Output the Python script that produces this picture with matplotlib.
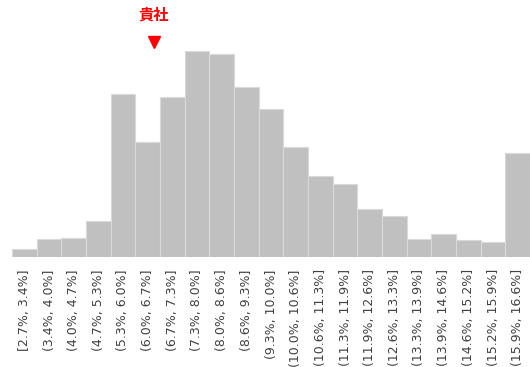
import matplotlib

matplotlib.use("Agg")
import matplotlib.pyplot as plt
import numpy as np

plt.rcParams["font.family"] = ["Noto Sans CJK JP", "DejaVu Sans"]

# histogram of rates: bin edges (%) and bar heights
edges = np.linspace(2.7, 16.6, 22)
heights = [7.4, 17.7, 18.7, 35.7, 163, 115, 160, 206, 203, 169.4, 147.4,
           109.4, 80.7, 73, 47.4, 40.4, 18, 22.4, 16.4, 14.4, 104]
labels = ["[2.7%, 3.4%]", "(3.4%, 4.0%]", "(4.0%, 4.7%]", "(4.7%, 5.3%]",
          "(5.3%, 6.0%]", "(6.0%, 6.7%]", "(6.7%, 7.3%]", "(7.3%, 8.0%]",
          "(8.0%, 8.6%]", "(8.6%, 9.3%]", "(9.3%, 10.0%]", "(10.0%, 10.6%]",
          "(10.6%, 11.3%]", "(11.3%, 11.9%]", "(11.9%, 12.6%]", "(12.6%, 13.3%]",
          "(13.3%, 13.9%]", "(13.9%, 14.6%]", "(14.6%, 15.2%]", "(15.2%, 15.9%]",
          "(15.9%, 16.6%]"]
own_rate = 6.5
own_label = "貴社"

fig = plt.figure(figsize=(5.3, 3.67), dpi=100)
ax = fig.add_axes([12 / 530, 0.3005, 1 - 12 / 530, 0.6995])

widths = np.diff(edges)
centers = edges[:-1] + widths / 2
ax.bar(edges[:-1], heights, width=widths, align="edge", color="#c0c0c0",
       edgecolor="#dadada", linewidth=0.8)

ymax = 256.7
ax.plot([own_rate], [ymax - 42], marker="v", color="#ff0000",
        markersize=8, linestyle="none", clip_on=False)
ax.text(own_rate, ymax - 15, own_label, color="#ff0000", fontsize=11,
        fontweight="bold", ha="center", va="center")

ax.set_xlim(edges[0], edges[-1])
ax.set_ylim(0, ymax)
ax.set_xticks(centers)
ax.set_xticklabels(labels, rotation=90, fontsize=9, color="#404040",
                   family="DejaVu Sans")
ax.tick_params(axis="x", length=0, pad=9)
ax.set_yticks([])
for side in ax.spines.values():
    side.set_visible(False)

fig.savefig("out.png", dpi=100)
